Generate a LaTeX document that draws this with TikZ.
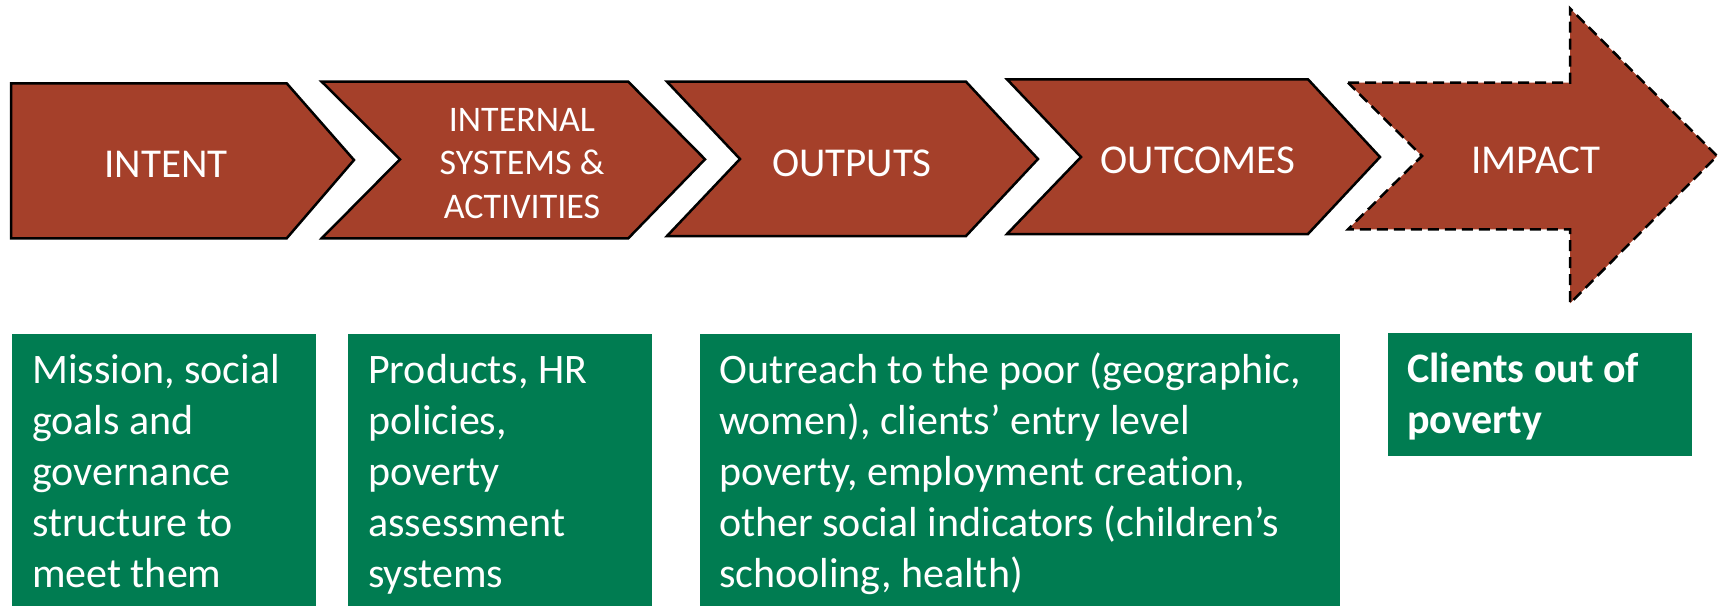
\documentclass[tikz,border=0pt]{standalone}
\usepackage{fontspec}
\setmainfont[Ligatures=NoCommon]{Carlito}
\definecolor{rust}{HTML}{A5402A}
\definecolor{leaf}{HTML}{007C51}
% stacked lines; the baseline of the stack is that of its first line
\newcommand\leftrows[1]{\vtop{\halign{##\hfil\cr#1\crcr}}}
\newcommand\centrows[1]{\vtop{\halign{\hfil##\hfil\cr#1\crcr}}}
\begin{document}
\begin{tikzpicture}[x=1pt,y=-1pt,
  stage/.style={fill=rust, draw=black, line width=2.5pt, line join=miter},
  laststage/.style={fill=rust, draw=black, line width=2.5pt, dash pattern=on 11pt off 6pt},
  stagelabel/.style={text=white, font=\fontsize{41}{49}\selectfont, inner sep=0pt, anchor=base},
  panel/.style={fill=leaf, draw=none, inner sep=0pt, anchor=north west},
  paneltext/.style={text=white, font=\fontsize{42}{51}\selectfont, inner sep=0pt, anchor=base west}]
\useasboundingbox (0,0) rectangle (1725,606);

% process chevrons
\path[stage] (11,83.3) -- (286.7,83.3) -- (354,160) -- (286.7,238.3) -- (11,238.3) -- cycle;
\path[stage] (321.7,81.7) -- (628.3,81.7) -- (705,159.3) -- (628.3,238.3) -- (321.7,238.3) -- (400,159.3) -- cycle;
\path[stage] (667,81.7) -- (966,81.7) -- (1038,159) -- (966,236) -- (667,236) -- (740,159) -- cycle;
\path[stage] (1007,79.3) -- (1308,79.3) -- (1380,157) -- (1308,234) -- (1007,234) -- (1081,157) -- cycle;
% final block arrow, dashed outline
\path[laststage] (1348,82.7) -- (1570,82.7) -- (1570,8.3) -- (1717,156) -- (1570,303.3)
  -- (1570,229.3) -- (1348,229.3) -- (1422,156) -- cycle;

\node[stagelabel] (intent) at (166,177) {INTENT};
\node[stagelabel, font=\fontsize{36}{43.5}\selectfont] (internal) at (522,131)
  {\centrows{INTERNAL\cr SYSTEMS \&\cr ACTIVITIES}};
\node[stagelabel] (outputs) at (852,176) {OUTPUTS};
\node[stagelabel] (outcomes) at (1198,173) {OUTCOMES};
\node[stagelabel] (impact) at (1536,173) {IMPACT};

% description panels
\node[panel, minimum width=304pt, minimum height=272pt] (p1) at (12,334) {};
\node[panel, minimum width=304pt, minimum height=272pt] (p2) at (348,334) {};
\node[panel, minimum width=640pt, minimum height=272pt] (p3) at (700,334) {};
\node[panel, minimum width=304pt, minimum height=123pt] (p4) at (1388,333) {};

\node[paneltext] (t1) at (32,383)
  {\leftrows{Mission, social\cr goals and\cr governance\cr structure to\cr meet them}};
\node[paneltext] (t2) at (368,383)
  {\leftrows{Products, HR\cr policies,\cr poverty\cr assessment\cr systems}};
\node[paneltext] (t3) at (719,383)
  {\leftrows{Outreach to the poor (geographic,\cr women), clients’ entry level\cr poverty, employment creation,\cr other social indicators (children’s\cr schooling, health)}};
\node[paneltext, font=\fontsize{42}{51}\selectfont\bfseries] (t4) at (1407,382)
  {\leftrows{Clients out of\cr poverty}};
\end{tikzpicture}
\end{document}
